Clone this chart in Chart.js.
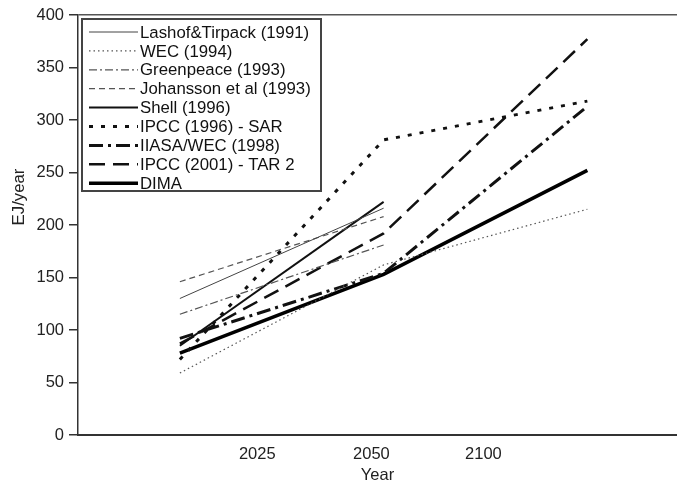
<!DOCTYPE html>
<html>
<head>
<title>Energy scenarios</title>
<style>
    body { margin: 0; background: #ffffff; }
    #wrap { width: 677px; height: 482px; }
</style>
<script src="https://cdn.jsdelivr.net/npm/chart.js"></script>
</head>
<body>
<div id="wrap"><canvas id="chart"></canvas></div>
<script>
// data
const years = [2000, 2050, 2100];
const seriesNames = ['Lashof&Tirpack (1991)', 'WEC (1994)', 'Greenpeace (1993)', 'Johansson et al (1993)',
    'Shell (1996)', 'IPCC (1996) - SAR', 'IIASA/WEC (1998)', 'IPCC (2001) - TAR 2', 'DIMA'];
const lashof = [130, 216];
const wec = [59, 162, 215];
const greenpeace = [115, 181];
const johansson = [146, 208];
const shell = [85, 222];
const ipccSar = [72, 281, 318];
const iiasa = [92, 154, 313];
const ipccTar = [87, 192, 377];
const dima = [78, 153, 252];
const yTicks = [0, 50, 100, 150, 200, 250, 300, 350, 400];
// the year labels sit where the original figure put them
const xTickPos = [2019, 2047, 2074.5];
const xTickLabels = ['2025', '2050', '2100'];

const values = [lashof, wec, greenpeace, johansson, shell, ipccSar, iiasa, ipccTar, dima];
const styles = [
    { c: '#444', w: 1, d: [] },
    { c: '#555', w: 1.2, d: [1.5, 3] },
    { c: '#555', w: 1.2, d: [8, 3, 2, 3] },
    { c: '#555', w: 1.2, d: [6, 4] },
    { c: '#111', w: 2, d: [] },
    { c: '#111', w: 3, d: [4, 8] },
    { c: '#111', w: 3, d: [14, 5, 3, 5] },
    { c: '#111', w: 2.5, d: [16, 8] },
    { c: '#000', w: 3.5, d: [] }
];

const font = 'Liberation Sans, Arial, sans-serif';

const legendBox = {
    id: 'legendBox',
    afterDraw(chart) {
        const ctx = chart.ctx;
        ctx.save();
        ctx.fillStyle = '#fff';
        ctx.fillRect(82, 19, 239, 172);
        ctx.strokeStyle = '#444';
        ctx.lineWidth = 2;
        ctx.strokeRect(82, 19, 239, 172);
        ctx.font = '16.8px ' + font;
        ctx.textBaseline = 'middle';
        chart.data.datasets.forEach((ds, i) => {
            const y = 32 + i * 18.9;
            ctx.strokeStyle = ds.borderColor;
            ctx.lineWidth = ds.borderWidth;
            ctx.setLineDash(ds.borderDash);
            ctx.beginPath();
            ctx.moveTo(89, y);
            ctx.lineTo(138, y);
            ctx.stroke();
            ctx.setLineDash([]);
            ctx.fillStyle = '#111';
            ctx.fillText(ds.label, 140, y + 1);
        });
        // y axis title
        ctx.translate(19, 197);
        ctx.rotate(-Math.PI / 2);
        ctx.textAlign = 'center';
        ctx.fillStyle = '#222';
        ctx.fillText('EJ/year', 0, 0);
        ctx.restore();
    }
};

new Chart(document.getElementById('chart'), {
    type: 'line',
    data: {
        datasets: values.map((v, i) => ({
            label: seriesNames[i],
            data: v.map((y, j) => ({ x: years[j], y: y })),
            borderColor: styles[i].c,
            borderWidth: styles[i].w,
            borderDash: styles[i].d,
            pointRadius: 0,
            tension: 0,
            fill: false
        }))
    },
    options: {
        responsive: true,
        maintainAspectRatio: false,
        animation: false,
        layout: { padding: { top: 15, right: 0, bottom: 0, left: 0 } },
        plugins: { legend: { display: false }, tooltip: { enabled: false } },
        scales: {
            x: {
                type: 'linear',
                min: 1975,
                max: 2122,
                afterBuildTicks: axis => { axis.ticks = xTickPos.map(v => ({ value: v })); },
                afterFit: s => { s.height = 47; },
                grid: { display: true, color: 'transparent', drawTicks: false },
                border: { display: true, color: '#333', width: 2 },
                ticks: {
                    padding: 10,
                    color: '#222',
                    font: { family: font, size: 16.5, lineHeight: 1.1 },
                    maxRotation: 0,
                    autoSkip: false,
                    callback: (v, i) => xTickLabels[i]
                },
                title: {
                    display: true,
                    text: 'Year',
                    color: '#222',
                    padding: { top: 0, bottom: -3 },
                    font: { family: font, size: 16.5, lineHeight: 1.1 }
                }
            },
            y: {
                min: 0,
                max: 400,
                afterBuildTicks: axis => { axis.ticks = yTicks.map(v => ({ value: v })); },
                afterFit: s => { s.width = 78; },
                grid: {
                    color: c => (c.tick && c.tick.value === 400 ? '#555' : 'transparent'),
                    lineWidth: 1.5,
                    tickColor: '#333',
                    tickLength: 9
                },
                border: { display: true, color: '#333', width: 1.5 },
                ticks: {
                    padding: 5,
                    color: '#222',
                    font: { family: font, size: 16.5 }
                }
            }
        }
    },
    plugins: [legendBox]
});
</script>
</body>
</html>
